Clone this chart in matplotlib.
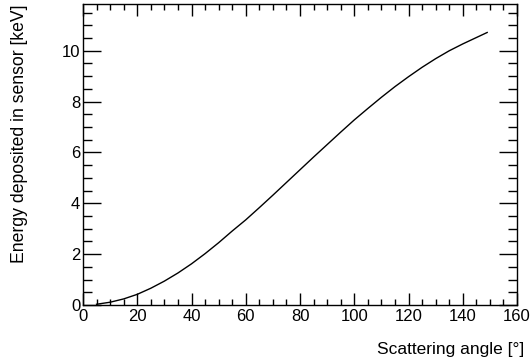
import matplotlib
matplotlib.use("Agg")
import matplotlib.pyplot as plt
from matplotlib.ticker import MultipleLocator

plt.rcParams['font.family'] = ['Liberation Sans', 'DejaVu Sans']

# Scattering angle (deg) and deposited energy (keV)
angle = [5, 10, 15, 20, 25, 30, 35, 40, 45, 50, 55, 60, 65, 70, 75,
         80, 85, 90, 95, 100, 105, 110, 115, 120, 125, 130, 135, 140, 145, 149]
edep = [0.03, 0.11, 0.24, 0.42, 0.66, 0.94, 1.26, 1.62, 2.02, 2.45, 2.91, 3.35,
        3.83, 4.32, 4.82, 5.32, 5.82, 6.31, 6.80, 7.28, 7.73, 8.17, 8.59, 8.98,
        9.35, 9.69, 10.00, 10.27, 10.52, 10.72]

fig = plt.figure(figsize=(5.30, 3.58), dpi=100)
ax = fig.add_axes([0.1566, 0.148, 0.9755 - 0.1566, 0.9888 - 0.148])

ax.plot(angle, edep, color='black', lw=1.0)

ax.set_xlim(0, 160)
ax.set_ylim(0, 11.84)
ax.xaxis.set_major_locator(MultipleLocator(20))
ax.xaxis.set_minor_locator(MultipleLocator(5))
ax.yaxis.set_major_locator(MultipleLocator(2))
ax.yaxis.set_minor_locator(MultipleLocator(0.5))

ax.tick_params(which='both', direction='in', top=True, right=True,
               labelsize=12, width=1.0)
ax.tick_params(axis='x', which='major', length=8.5, pad=3)
ax.tick_params(axis='x', which='minor', length=4.2)
ax.tick_params(axis='y', which='major', length=13, pad=2)
ax.tick_params(axis='y', which='minor', length=6.5)
for s in ax.spines.values():
    s.set_linewidth(1.0)

ax.set_xlabel("Scattering angle [°]", fontsize=12.5, loc='right', labelpad=13)
ax.xaxis.label.set_x(1.017)
ax.set_ylabel("Energy deposited in sensor [keV]", fontsize=12.7, loc='top', labelpad=24)

fig.savefig("out.png", dpi=100)
